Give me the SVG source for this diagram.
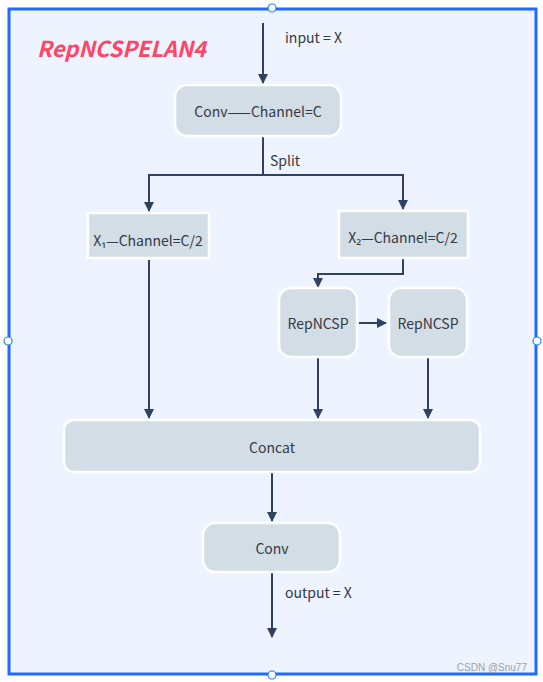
<svg xmlns="http://www.w3.org/2000/svg" width="543" height="682" viewBox="0 0 543 682">
<style>
.node{fill:#d3dde6;stroke:#ffffff;stroke-width:2.5}
.t{font-family:"Noto Sans CJK SC","Noto Sans","Liberation Sans",sans-serif;font-size:14px;fill:#333a44;text-anchor:middle;dominant-baseline:central}
.lbl{font-family:"Noto Sans CJK SC","Noto Sans","Liberation Sans",sans-serif;font-size:14px;fill:#333a44}
.c{fill:none;stroke:#2f4263;stroke-width:2}
.h{fill:#fff;stroke:#2a7cff;stroke-width:1.2}
</style>
<defs>
<marker id="ah" markerWidth="10" markerHeight="10" refX="9" refY="5" orient="auto" markerUnits="userSpaceOnUse">
<path d="M0,0 L10,5 L0,10 Z" fill="#2f4263"/>
</marker>
</defs>
<rect x="0" y="0" width="543" height="682" fill="#ffffff"/>
<rect x="9" y="9" width="527" height="665" fill="#edf3ff" stroke="#1f6bff" stroke-width="3"/>
<text x="37" y="57" font-family="'Noto Sans CJK SC','Noto Sans',sans-serif" font-size="22" font-weight="bold" font-style="italic" fill="#ff4466" textLength="169" lengthAdjust="spacingAndGlyphs">RepNCSPELAN4</text>
<g id="connectors">
<path class="c" d="M263,23 V83" marker-end="url(#ah)"/>
<path class="c" d="M263,137 V175 H149 V211" marker-end="url(#ah)"/>
<path class="c" d="M263,175 H403 V209" marker-end="url(#ah)"/>
<path class="c" d="M403,259 V274 H318 V287" marker-end="url(#ah)"/>
<path class="c" d="M359,323 H386" marker-end="url(#ah)"/>
<path class="c" d="M149,260 V418" marker-end="url(#ah)"/>
<path class="c" d="M318,358 V418" marker-end="url(#ah)"/>
<path class="c" d="M428,358 V418" marker-end="url(#ah)"/>
<path class="c" d="M272,473 V521" marker-end="url(#ah)"/>
<path class="c" d="M272,573 V637" marker-end="url(#ah)"/>
<text class="lbl" x="285" y="43">input = X</text>
<text class="lbl" x="270" y="166">Split</text>
<text class="lbl" x="285" y="598">output = X</text>
</g>
<g id="conv1"><rect class="node" x="175" y="85" width="166" height="51" rx="12"/><text class="t" x="258" y="111">Conv——Channel=C</text></g>
<g id="x1"><rect class="node" x="88" y="213" width="121" height="45"/><text class="t" x="148" y="240">X₁—Channel=C/2</text></g>
<g id="x2"><rect class="node" x="339" y="211" width="129" height="47"/><text class="t" x="403" y="237">X₂—Channel=C/2</text></g>
<g id="rep1"><rect class="node" x="279" y="288" width="78" height="69" rx="12"/><text class="t" x="318" y="323">RepNCSP</text></g>
<g id="rep2"><rect class="node" x="389" y="288" width="78" height="69" rx="12"/><text class="t" x="428" y="323">RepNCSP</text></g>
<g id="concat"><rect class="node" x="64" y="420" width="416" height="52" rx="10"/><text class="t" x="272" y="447">Concat</text></g>
<g id="conv2"><rect class="node" x="203" y="523" width="137" height="49" rx="12"/><text class="t" x="272" y="548">Conv</text></g>
<circle class="h" cx="272" cy="8" r="4"/>
<circle class="h" cx="8" cy="341" r="4"/>
<circle class="h" cx="537" cy="341" r="4"/>
<circle class="h" cx="272" cy="675" r="4"/>
<text x="527" y="671" text-anchor="end" font-family="'Liberation Sans',sans-serif" font-size="10" fill="#9aa0a8">CSDN @Snu77</text>
</svg>
